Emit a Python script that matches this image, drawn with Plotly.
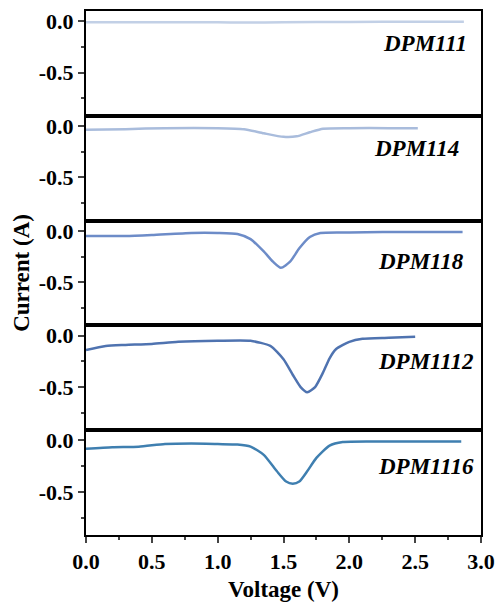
import plotly.graph_objects as go
from plotly.subplots import make_subplots

names = ["DPM111", "DPM114", "DPM118", "DPM1112", "DPM1116"]
colors = ["#c2d0e6", "#a9bcdc", "#6d8cc8", "#4f73b0", "#3f7fb0"]

v111 = [0, 0.5, 1.0, 1.2, 1.5, 2.0, 2.5, 2.87]
i111 = [-0.01, -0.01, -0.01, -0.012, -0.01, -0.006, -0.005, -0.005]

v114 = [0, 0.3, 0.6, 1.0, 1.2, 1.35, 1.5, 1.6, 1.7, 1.8, 2.0, 2.3, 2.52]
i114 = [-0.035, -0.03, -0.02, -0.02, -0.03, -0.07, -0.105, -0.1, -0.06, -0.025, -0.02, -0.02, -0.02]

v118 = [0, 0.3, 0.5, 0.8, 1.0, 1.15, 1.25, 1.35, 1.42, 1.48, 1.55, 1.62, 1.7, 1.78, 2.0, 2.5, 2.86]
i118 = [-0.05, -0.05, -0.04, -0.02, -0.02, -0.03, -0.08, -0.2, -0.3, -0.36, -0.3, -0.17, -0.06, -0.02, -0.015, -0.01, -0.01]

v1112 = [0, 0.15, 0.3, 0.5, 0.7, 1.0, 1.25, 1.4, 1.5, 1.57, 1.63, 1.68, 1.74, 1.8, 1.85, 1.9, 2.0, 2.1, 2.3, 2.5]
i1112 = [-0.14, -0.1, -0.09, -0.08, -0.06, -0.05, -0.05, -0.1, -0.23, -0.38, -0.5, -0.55, -0.5, -0.36, -0.22, -0.13, -0.06, -0.03, -0.02, -0.01]

v1116 = [0, 0.2, 0.4, 0.6, 0.8, 1.0, 1.15, 1.25, 1.35, 1.45, 1.52, 1.57, 1.62, 1.68, 1.75, 1.85, 1.95, 2.2, 2.5, 2.85]
i1116 = [-0.08, -0.065, -0.06, -0.035, -0.03, -0.035, -0.04, -0.06, -0.14, -0.3, -0.4, -0.42, -0.4, -0.3, -0.17, -0.05, -0.015, -0.01, -0.01, -0.01]

label_y = [-0.215, -0.215, -0.3, -0.25, -0.25]
label_xdom = [0.969, 0.950, 0.962, 0.987, 0.987]

x_ticks = [0, 0.5, 1.0, 1.5, 2.0, 2.5, 3.0]
x_tick_labels = ["0.0", "0.5", "1.0", "1.5", "2.0", "2.5", "3.0"]
y_ticks = [0, -0.5]
y_tick_labels = ["0.0", "-0.5"]

xs = [v111, v114, v118, v1112, v1116]
ys = [i111, i114, i118, i1112, i1116]

fig = make_subplots(rows=5, cols=1, shared_xaxes=True, vertical_spacing=0)
FONT = "Liberation Serif"

for k in range(5):
    sfx = str(k + 1) if k else ""
    fig.add_trace(go.Scatter(x=xs[k], y=ys[k], mode="lines",
                             line=dict(color=colors[k], width=2.5, shape="spline", smoothing=0.6),
                             showlegend=False), row=k + 1, col=1)
    fig.add_annotation(x=label_xdom[k], y=label_y[k], xref=f"x{sfx} domain", yref=f"y{sfx}",
                       text=f"<b><i>{names[k]}</i></b>", showarrow=False, xanchor="right", yanchor="middle",
                       font=dict(family=FONT, size=23, color="black"))
    last = (k == 4)
    fig.update_xaxes(ticks="outside" if last else "", showticklabels=last,
                     minor=dict(ticks="outside" if last else "", ticklen=3, tickwidth=2, dtick=0.25),
                     row=k + 1, col=1)

fig.update_yaxes(range=[-0.92, 0.1], tickvals=y_ticks, ticktext=[f"<b>{t}</b>" for t in y_tick_labels],
                 ticks="outside", ticklen=6, tickwidth=2, automargin=False,
                 minor=dict(ticks="outside", ticklen=3, tickwidth=2, tickvals=[-0.25, -0.75]),
                 showline=True, linewidth=2, linecolor="black", mirror=True, showgrid=False, zeroline=False,
                 tickfont=dict(family=FONT, size=22, color="black"))
fig.update_xaxes(range=[0, 3.0], showline=True, linewidth=2, linecolor="black", mirror=True, showgrid=False,
                 zeroline=False, tickvals=x_ticks, ticktext=[f"<b>{t}</b>" for t in x_tick_labels],
                 ticklen=6, tickwidth=2, automargin=False, tickfont=dict(family=FONT, size=22, color="black"))

fig.update_xaxes(title=dict(text="<b>Voltage (V)</b>", font=dict(family=FONT, size=23, color="black"), standoff=7),
                 row=5, col=1)
fig.add_annotation(text="<b>Current (A)</b>", x=-0.165, y=0.5, xref="paper", yref="paper", textangle=-90,
                   showarrow=False, font=dict(family=FONT, size=23, color="black"), xanchor="center", yanchor="middle")

fig.update_layout(width=496, height=606, margin=dict(l=86, r=15, t=11, b=71), plot_bgcolor="white",
                  paper_bgcolor="white", font=dict(family=FONT, color="black"))
fig.write_html("out.html")
